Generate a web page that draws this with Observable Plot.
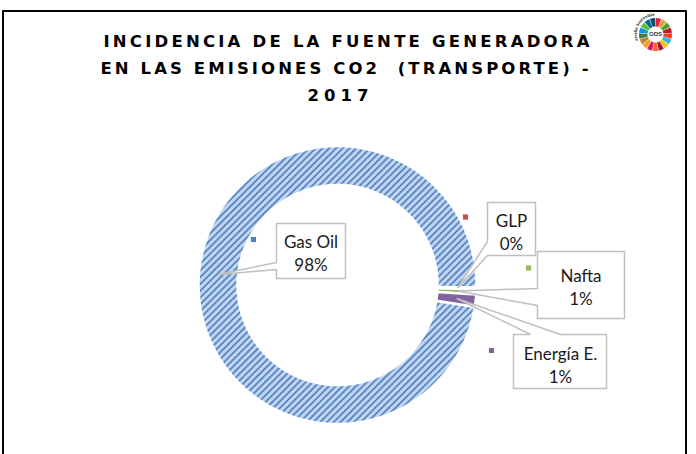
<!DOCTYPE html>
<html><head><meta charset="utf-8">
<script src="https://cdn.jsdelivr.net/npm/d3@7"></script>
<script src="https://cdn.jsdelivr.net/npm/@observablehq/plot@0.6"></script>
<style>
html,body{margin:0;padding:0;background:#fff;}
#chart{width:696px;height:454px;overflow:hidden;}
#chart text{white-space:pre;}
</style>
</head><body><div id="chart"></div>
<script>
// ---------- data ----------
const titleLines = ["INCIDENCIA DE LA FUENTE GENERADORA", "EN LAS EMISIONES CO2  (TRANSPORTE) -", "2017"];
const categories = ["Gas Oil", "GLP", "Nafta", "Energía E."];
const shares = [97.8, 0.2, 0.6, 1.4];
const sliceFills = ["url(#hatch)", "#c0504d", "#9bbb59", "#8064a2"];
const markerColors = ["#4f81bd", "#c0504d", "#9bbb59", "#8064a2"];
const logoText = "Objetivos de Desarrollo Sostenible";
const logoCenterText = "ODS";
const sdgColors = ["#E5243B","#DDA63A","#4C9F38","#C5192D","#FF3A21","#26BDE2","#FCC30B","#A21942","#FD6925","#DD1367","#FD9D24","#BF8B2E","#3F7E44","#0A97D9","#56C02B","#00689D","#19486A"];

// ---------- layout ----------
const W = 696, H = 454;
const ring = {cx: 337, cy: 284.5, r0: 100, r1: 139, start: 99, tipR: 120};
const titleLayout = [
  {left: 103, width: 486, y: 41},
  {left: 100, width: 488, y: 68.5},
  {left: 307, width: 61, y: 95}
];
const labelLayout = [
  {box: [276, 223, 345, 278], text: [310.5, 251.5], marker: [253, 239], side: "left", base: [269, 262]},
  {box: [487, 202, 535, 255], text: [511, 230.5], marker: [465, 216.5], side: "leftcorner", base: [255, 241]},
  {box: [537, 251, 624, 318], text: [580.5, 286], marker: [528, 267.5], side: "left", base: [305, 288]},
  {box: [513, 334, 606, 388], text: [560, 363.5], marker: [491, 350], side: "top", base: [530, 560]}
];
const logo = {cx: 655, cy: 34, r0: 8, r1: 16.5, rt: 18.2};

// ---------- geometry helpers ----------
const rad = a => a * Math.PI / 180;
function polar(cx, cy, r, a) { return [cx + r * Math.sin(rad(a)), cy - r * Math.cos(rad(a))]; }
function arcPolygon(key, cx, cy, r0, r1, a0, a1) {
  const n = Math.max(2, Math.ceil(Math.abs(a1 - a0) / 1));
  const pts = [];
  for (let i = 0; i <= n; i++) pts.push(polar(cx, cy, r1, a0 + (a1 - a0) * i / n));
  for (let i = n; i >= 0; i--) pts.push(polar(cx, cy, r0, a0 + (a1 - a0) * i / n));
  pts.push(pts[0]);
  return pts.map(([x, y], j) => ({key, x, y, j}));
}

const total = d3.sum(shares);
let acc = ring.start;
const slices = categories.map((name, i) => {
  const a0 = acc, a1 = acc + shares[i] / total * 360;
  acc = a1;
  return {name, i, a0, a1, mid: (a0 + a1) / 2, fill: sliceFills[i]};
});
const sliceRows = slices.flatMap(s => arcPolygon(s.name, ring.cx, ring.cy, ring.r0, ring.r1, s.a0, s.a1).map(p => ({...p, fill: s.fill})));

const calloutRows = slices.flatMap((s, i) => {
  const L = labelLayout[i];
  const [x1, y1, x2, y2] = L.box;
  const tip = polar(ring.cx, ring.cy, ring.tipR, s.mid);
  let pts;
  if (L.side === "left") {
    pts = [[x1, y1], [x2, y1], [x2, y2], [x1, y2], [x1, L.base[0]], tip, [x1, L.base[1]], [x1, y1]];
  } else if (L.side === "leftcorner") {
    pts = [[x1, y1], [x2, y1], [x2, y2], [x1, L.base[0]], tip, [x1, L.base[1]], [x1, y1]];
  } else {
    pts = [[x1, y1], [L.base[0], y1], tip, [L.base[1], y1], [x2, y1], [x2, y2], [x1, y2], [x1, y1]];
  }
  return pts.map(([x, y], j) => ({key: s.name, x, y, j}));
});
const labelRows = slices.map((s, i) => ({
  x: labelLayout[i].text[0], y: labelLayout[i].text[1],
  text: `${s.name}\n${Math.round(shares[i] / total * 100)}%`
}));
const markerRows = slices.map((s, i) => ({x: labelLayout[i].marker[0], y: labelLayout[i].marker[1], c: markerColors[i]}));
const titleRows = titleLines.map((t, i) => ({text: t, x: titleLayout[i].left, y: titleLayout[i].y}));

const step = 360 / sdgColors.length;
const logoRows = sdgColors.flatMap((c, i) =>
  arcPolygon("g" + i, logo.cx, logo.cy, logo.r0, logo.r1, i * step + 1.2, (i + 1) * step - 1.2).map(p => ({...p, fill: c})));

const borderRows = [[2.5, 10.5], [685.5, 10.5], [685.5, 470], [2.5, 470], [2.5, 10.5]].map(([x, y]) => ({x, y}));

const chart = Plot.plot({
  width: W, height: H, margin: 0,
  x: {domain: [0, W], range: [0, W], axis: null},
  y: {domain: [0, H], range: [0, H], axis: null},
  color: {type: "identity"},
  style: {fontFamily: "Lato, 'Open Sans', sans-serif", background: "#fff", overflow: "visible"},
  marks: [
    Plot.line(borderRows, {x: "x", y: "y", stroke: "#000", strokeWidth: 2}),
    Plot.line(sliceRows, {x: "x", y: "y", z: "key", fill: "fill", stroke: "#fff", strokeWidth: 2.5, strokeLinejoin: "miter"}),
    Plot.line(calloutRows, {x: "x", y: "y", z: "key", fill: "#fff", stroke: "#bfbfbf", strokeWidth: 1.5, strokeLinejoin: "miter"}),
    Plot.text(labelRows, {x: "x", y: "y", text: "text", fontSize: 17, lineHeight: 1.35, fill: "#1a1a1a"}),
    Plot.dot(markerRows, {x: "x", y: "y", fill: "c", symbol: "square", r: 2.9, stroke: null}),
    Plot.text(titleRows, {x: "x", y: "y", text: "text", textAnchor: "start", fontSize: 16.5, fontWeight: "bold", fill: "#000", fontFamily: "'DejaVu Sans', sans-serif"}),
    Plot.line(logoRows, {x: "x", y: "y", z: "key", fill: "fill", stroke: "none"}),
    Plot.text([{x: logo.cx, y: logo.cy, t: logoCenterText}], {x: "x", y: "y", text: "t", fontSize: 6, fontWeight: "bold", fill: "#1a3c5a", fontFamily: "'Liberation Sans', sans-serif"})
  ]
});

const svg = d3.select(chart);
const defs = svg.insert("defs", ":first-child");
const pat = defs.append("pattern").attr("id", "hatch").attr("patternUnits", "userSpaceOnUse")
  .attr("width", 4.8).attr("height", 4.8).attr("patternTransform", "rotate(45)");
pat.append("rect").attr("width", 4.8).attr("height", 4.8).attr("fill", "#c3d6ef");
pat.append("rect").attr("x", 0).attr("width", 1.8).attr("height", 4.8).attr("fill", "#6593d2");
pat.append("rect").attr("x", 0.3).attr("y", 0.6).attr("width", 1.2).attr("height", 1.3).attr("fill", "#3a6cb8");
pat.append("rect").attr("x", 0.3).attr("y", 3.0).attr("width", 1.2).attr("height", 1.3).attr("fill", "#3a6cb8");

const [ax, ay] = polar(logo.cx, logo.cy, logo.rt, -112);
const [bx, by] = polar(logo.cx, logo.cy, logo.rt, 112);
defs.append("path").attr("id", "logoArc")
  .attr("d", `M${ax},${ay} A${logo.rt},${logo.rt} 0 1 1 ${bx},${by}`);
svg.append("text").attr("font-size", 3.8).attr("font-weight", "bold").attr("fill", "#2b2b2b")
  .attr("font-family", "'DejaVu Sans Condensed', sans-serif")
  .append("textPath").attr("href", "#logoArc").attr("startOffset", "2%").text(logoText);

document.getElementById("chart").append(chart);

// bold weight + letter-spacing so each title line spans the width it has in the reference
svg.selectAll("text").filter(function () { return titleLines.includes(this.textContent); })
  .style("font-weight", "700")
  .each(function () {
    const i = titleLines.indexOf(this.textContent);
    const n = this.textContent.length;
    const natural = this.getComputedTextLength();
    const ls = (titleLayout[i].width - natural) / (n - 1);
    d3.select(this).style("letter-spacing", ls + "px");
  });
</script>
</body></html>
